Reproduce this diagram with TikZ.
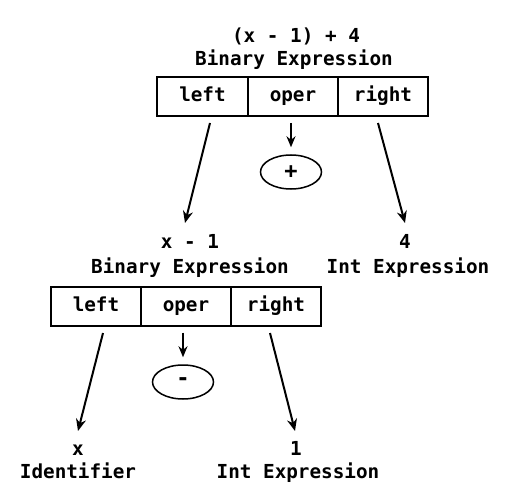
\documentclass[tikz,border=0pt]{standalone}
\usepackage{fontspec}
\setmonofont{DejaVu Sans Mono}
\usetikzlibrary{shapes.geometric,arrows.meta}
\begin{document}
\begin{tikzpicture}[x=1pt,y=-1pt,
  lbl/.style={font=\ttfamily\bfseries\fontsize{19.3}{20}\selectfont, inner sep=0, text height=14pt, text depth=4pt},
  cell/.style={draw, line width=2pt, minimum width=90.5pt, minimum height=39pt, inner sep=0, outer sep=0,
    font=\ttfamily\bfseries\fontsize{19.3}{20}\selectfont, text height=14pt, text depth=4pt},
  opnode/.style={draw, ellipse, line width=1.5pt, minimum width=61pt, minimum height=34pt, inner sep=0,
    font=\ttfamily\bfseries\fontsize{22}{22}\selectfont},
  arr/.style={-{Stealth[length=12pt,width=10pt]}, line width=2pt},
  oparr/.style={-{Stealth[length=11pt,width=9pt]}, line width=1.6pt}]
\useasboundingbox (0,0) rectangle (512,495);

% top binary expression
\node[lbl] (t1) at (296,38) {(x - 1) + 4};
\node[lbl] (t2) at (294,61) {Binary Expression};
\node[cell] (tl) at (202.5,96.5) {left};
\node[cell] (to) at (293,96.5) {oper};
\node[cell] (tr) at (383,96.5) {right};
\node[opnode] (plus) at (291,172) {+};

% second level labels
\node[lbl] (m1) at (190,243) {x - 1};
\node[lbl] (m2) at (190,268) {Binary Expression};
\node[lbl] (r1) at (405,243) {4};
\node[lbl] (r2) at (408,268) {Int Expression};

% bottom binary expression
\node[cell] (bl) at (96,306) {left};
\node[cell] (bo) at (186,306) {oper};
\node[cell] (br) at (276,306) {right};
\node[opnode] (minus) at (183,382) {-};

% leaves
\node[lbl] (x1) at (78,450) {x};
\node[lbl] (x2) at (78,473) {Identifier};
\node[lbl] (i1) at (296,450) {1};
\node[lbl] (i2) at (298,473) {Int Expression};

% connector end points
\coordinate (a1s) at (210,123);
\coordinate (a1e) at (185,223);
\coordinate (a2s) at (378,123);
\coordinate (a2e) at (405,223);
\coordinate (a3s) at (103,333);
\coordinate (a3e) at (78,431);
\coordinate (a4s) at (270,333);
\coordinate (a4e) at (295,431);

\draw[arr] (a1s) -- (a1e);
\draw[arr] (a2s) -- (a2e);
\draw[oparr] ([yshift=-7pt]to.south -| plus.north) -- ([yshift=7pt]plus.north);
\draw[arr] (a3s) -- (a3e);
\draw[arr] (a4s) -- (a4e);
\draw[oparr] ([yshift=-7pt]bo.south -| minus.north) -- ([yshift=7pt]minus.north);
\end{tikzpicture}
\end{document}
